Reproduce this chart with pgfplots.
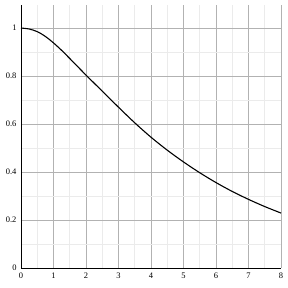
\documentclass[border=0pt]{standalone}
\usepackage{fontspec}
\setmainfont{Liberation Serif}
\usepackage{pgfplots}
\pgfplotsset{compat=1.18}
\begin{document}
\begin{tikzpicture}
\begin{axis}[
  scale only axis,
  width=260bp, height=263bp,
  xmin=0, xmax=8, ymin=0, ymax=1.096,
  axis lines=left,
  axis line style={black, line width=0.9pt, -},
  xtick={0,1,...,8},
  ytick={0,0.2,0.4,0.6,0.8,1},
  yticklabels={0,0.2,0.4,0.6,0.8,1},
  minor xtick={0.5,1.5,...,7.5},
  minor ytick={0.1,0.3,0.5,0.7,0.9,1.1},
  grid=both,
  major grid style={color=black!30, line width=0.6pt},
  minor grid style={color=black!8, line width=0.6pt},
  major tick length=0pt, minor tick length=0pt,
  tick label style={font=\fontsize{8.5}{10}\selectfont},
  /pgf/number format/assume math mode=true,
  xticklabel style={yshift=-1pt},
  yticklabel style={xshift=-1pt},
  clip=false,
]
\addplot[black, line width=1.1pt, smooth, tension=0.5] coordinates {
(0,1.0) (0.25,0.996) (0.5,0.985) (0.75,0.965) (1,0.938) (1.25,0.907) (1.5,0.873) (2,0.804) (2.5,0.737) (3,0.670) (3.5,0.605) (4,0.545) (4.5,0.491) (5,0.442) (5.5,0.397) (6,0.356) (6.5,0.319) (7,0.286) (7.5,0.256) (8,0.229)
};
\end{axis}
\pgfresetboundingbox
\path (current axis.south west) ++(-21bp,-20bp) rectangle ([xshift=7bp,yshift=5bp]current axis.north east);
\end{tikzpicture}
\end{document}
